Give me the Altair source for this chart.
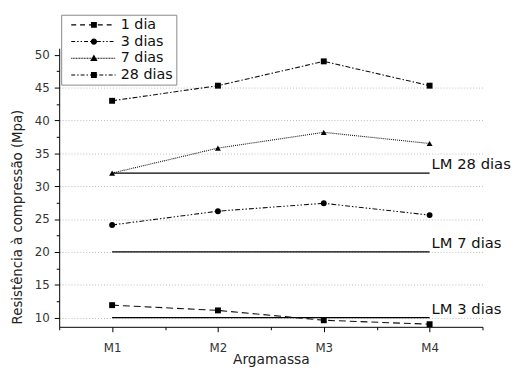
import altair as alt
import pandas as pd

series = ["1 dia", "3 dias", "7 dias", "28 dias"]
argamassa = [1, 2, 3, 4]
v_1dia = [11.9, 11.1, 9.6, 9.0]
v_3dias = [24.1, 26.2, 27.4, 25.6]
v_7dias = [32.0, 35.8, 38.2, 36.5]
v_28dias = [43.0, 45.3, 49.0, 45.3]

lm_vals = [32, 20, 10]
lm_labels = ["LM 28 dias", "LM 7 dias", "LM 3 dias"]

values = [v_1dia, v_3dias, v_7dias, v_28dias]
rows = []
for s, vals in zip(series, values):
    for a, v in zip(argamassa, vals):
        rows.append({"serie": s, "arg": a, "val": v})
df = pd.DataFrame(rows)

lm_df = pd.DataFrame({"y": lm_vals, "label": lm_labels,
                      "x1": [argamassa[0]] * 3, "x2": [argamassa[-1]] * 3})

# line styles
dashes = [[7, 4], [5, 2, 1.5, 2, 1.5, 2], [1, 1], [5, 2, 1.5, 2]]
shapes = ["square", "circle", "triangle-up", "square"]
legend_dashes = [[5, 4], [4, 2, 1.5, 2, 1.5, 2], [1, 0.6], [4, 2, 1.5, 2]]

# legend glyphs: dashed line (as thin filled rects) + marker, unit = 5px
U = 5.0
LEN = 45.0
MX = 23.0


def dash_path(pattern, hh=0.55):
    parts = []
    x, i, on = 0.0, 0, True
    while x < LEN:
        seg = pattern[i % len(pattern)]
        if on:
            x1 = min(x + seg, LEN)
            parts.append("M{:.3f},{:.3f}H{:.3f}V{:.3f}H{:.3f}Z".format(
                x / U, -hh / U, x1 / U, hh / U, x / U))
        x += seg
        on = not on
        i += 1
    return "".join(parts)


m = MX / U
marker_paths = [
    "M{:.2f},-0.6H{:.2f}V0.6H{:.2f}Z".format(m - 0.6, m + 0.6, m - 0.6),
    "M{:.2f},0A0.65,0.65,0,1,1,{:.2f},0A0.65,0.65,0,1,1,{:.2f},0Z".format(m + 0.65, m - 0.65, m + 0.65),
    "M{:.2f},-0.75L{:.2f},0.55H{:.2f}Z".format(m, m + 0.75, m - 0.75),
    "M{:.2f},-0.6H{:.2f}V0.6H{:.2f}Z".format(m - 0.6, m + 0.6, m - 0.6),
]
leg_paths = [dash_path(d) + mk for d, mk in zip(legend_dashes, marker_paths)]

xscale = alt.Scale(domain=[0.5, 4.5], nice=False, zero=False)
yscale = alt.Scale(domain=[8.6, 51], nice=False, zero=False)

xaxis = alt.Axis(
    values=[0.5, 1, 1.5, 2, 2.5, 3, 3.5, 4, 4.5],
    labelExpr="datum.value % 1 === 0 ? 'M' + datum.value : ''",
    title="Argamassa", grid=False, labelOverlap=False, labelPadding=11,
    tickSize={"condition": {"test": "datum.value % 1 === 0", "value": 5}, "value": 3},
    titleY=26, titleFont="DejaVu Sans", titleFontSize=14,
)
yaxis = alt.Axis(
    values=[10 + 2.5 * i for i in range(17)],
    labelExpr="datum.value % 5 === 0 ? datum.label : ''",
    title="Resistência à compressão (Mpa)", labelOverlap=False, labelPadding=5,
    tickSize={"condition": {"test": "datum.value % 5 === 0", "value": 5}, "value": 3},
    gridOpacity={"condition": {"test": "datum.value % 5 === 0 && datum.value < 50", "value": 1}, "value": 0},
    titleX=-35, titleY=171, titleFont="DejaVu Sans", titleFontSize=13.5,
)

X = lambda f: alt.X(f, scale=xscale, axis=xaxis)
Y = lambda f: alt.Y(f, scale=yscale, axis=yaxis)

base = alt.Chart(df)

lines = base.mark_line(color="#111", strokeWidth=1.1).encode(
    x=X("arg:Q"), y=Y("val:Q"),
    detail="serie:N",
    strokeDash=alt.StrokeDash("serie:N", scale=alt.Scale(domain=series, range=dashes), legend=None),
)

points = base.mark_point(filled=True, color="black", opacity=1, size=36).encode(
    x=X("arg:Q"), y=Y("val:Q"),
    shape=alt.Shape("serie:N", scale=alt.Scale(domain=series, range=shapes), legend=None),
)

legend_layer = base.transform_calculate(leg="datum.serie").transform_filter("false").mark_point(
    filled=True, color="black", opacity=1
).encode(
    x=X("arg:Q"), y=Y("val:Q"),
    shape=alt.Shape("leg:N", scale=alt.Scale(domain=series, range=leg_paths),
                    legend=alt.Legend(title=None, orient="none", legendX=2, legendY=-34,
                                      labelExpr="datum.label + '\u00a0\u00a0\u00a0'")),
)

lm_rules = alt.Chart(lm_df).mark_rule(color="black", strokeWidth=1.3).encode(
    x=X("x1:Q"), x2="x2:Q", y=Y("y:Q")
)
lm_text = alt.Chart(lm_df).mark_text(
    align="left", baseline="middle", dx=2, dy=-9, fontSize=15, font="DejaVu Sans", color="#111"
).encode(x=X("x2:Q"), y=Y("y:Q"), text="label:N")

chart = alt.layer(lm_rules, lines, points, lm_text, legend_layer).resolve_scale(
    shape="independent"
).properties(
    width=430, height=283,
    autosize=alt.AutoSizeParams(type="none"),
    padding={"left": 52, "top": 38, "right": 33, "bottom": 41},
).configure_view(stroke=None).configure_axis(
    domainColor="black", tickColor="black", labelColor="#333", labelFontSize=12,
    labelFont="DejaVu Sans", titleFontWeight="normal", titleColor="#222",
    gridColor="#bbb", gridDash=[1, 2], gridWidth=1,
).configure_legend(
    strokeColor="#888", padding=3, fillColor="white", labelFontSize=14.5,
    labelFont="DejaVu Sans", labelColor="#111", symbolSize=100, labelOffset=43,
    rowPadding=2,
)

chart.save("out.html", embed_options={"renderer": "svg", "actions": False})
